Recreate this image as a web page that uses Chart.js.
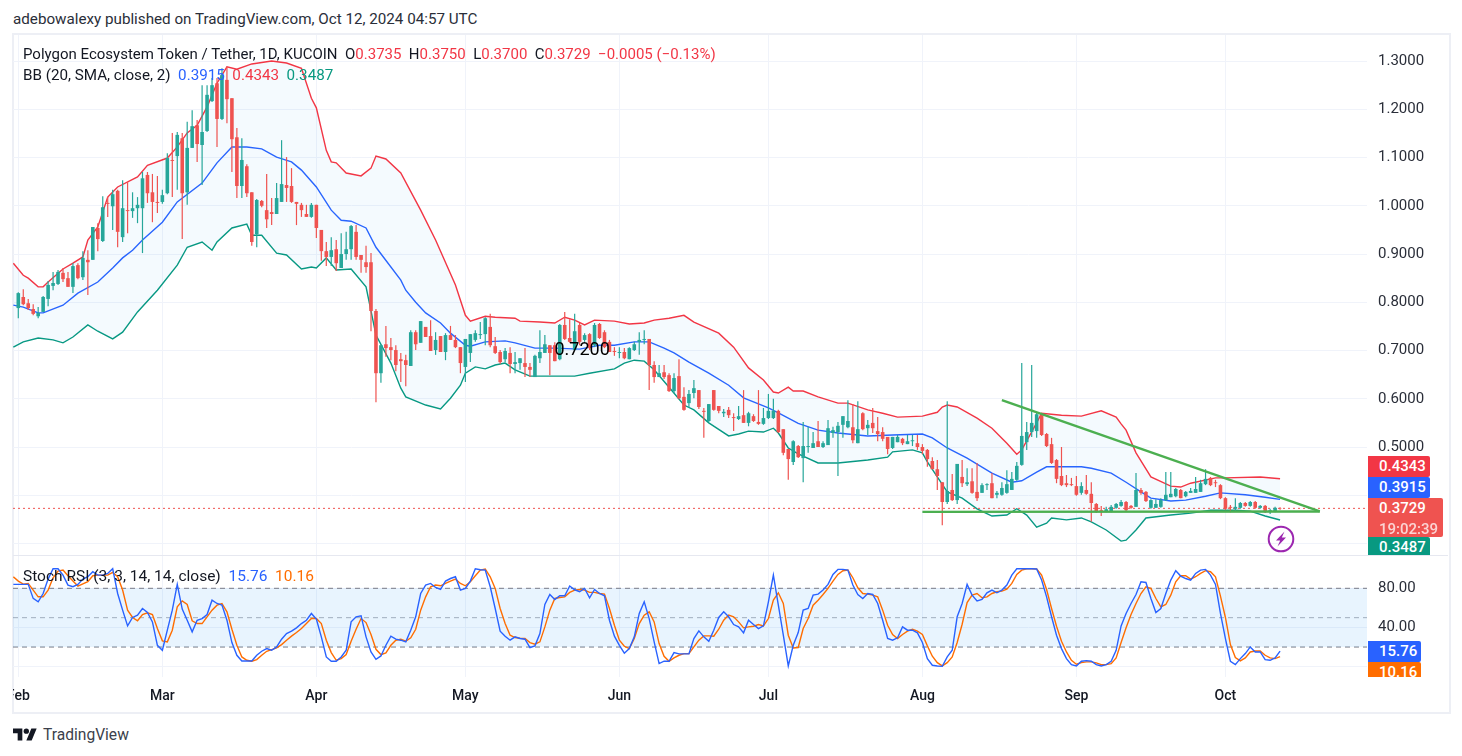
<!DOCTYPE html>
<html>
<head>
<meta charset="utf-8">
<title>POL / USDT</title>
<script src="https://cdn.jsdelivr.net/npm/chart.js@4"></script>
<style>
    html, body { margin: 0; padding: 0; background: #fff; }
    body { position: relative; width: 1462px; height: 756px; overflow: hidden; font-family: Roboto, sans-serif; color: #131722; }
    .abs { position: absolute; white-space: pre; }
    #frame { position: absolute; left: 12px; top: 33px; width: 1435px; height: 677px; border: 2px solid #EDEFF5; }
    #sep { position: absolute; left: 13px; top: 555px; width: 1435px; height: 1px; background: #E6E8F0; }
    #pricePane { position: absolute; left: 13px; top: 35px; }
    #stochPane { position: absolute; left: 13px; top: 556px; }
    .legend { font-size: 15px; line-height: 18px; }
    .tagBox { position: absolute; left: 1368px; overflow: hidden; }
    .tag { position: absolute; left: 0; color: #fff; font-size: 15px; font-weight: 500; box-sizing: border-box; padding-left: 11px; border-radius: 0 2px 2px 0; }
</style>
</head>
<body>
<div id="frame"></div>
<div id="pricePane"><canvas id="priceChart" width="1435" height="520"></canvas></div>
<div id="stochPane"><canvas id="stochChart" width="1435" height="155"></canvas></div>
<div id="sep"></div>

<div class="abs" style="left:13px;top:10px;font-size:15.2px;line-height:18px;color:#2a2e39">adebowalexy published on TradingView.com, Oct 12, 2024 04:57 UTC</div>
<div id="legendTop" class="abs legend" style="left:23px;top:45px"></div>
<div id="legendBB" class="abs legend" style="left:23px;top:66px;font-size:15.2px"></div>
<div id="legendStoch" class="abs legend" style="left:23px;top:567px;font-size:15.5px"></div>

<div class="tagBox" style="top:456px;width:81px;height:99px" id="priceTags"></div>
<div class="tagBox" style="top:641px;width:81px;height:36px" id="stochTags"></div>

<svg class="abs" style="left:1267px;top:525px" width="28" height="28" viewBox="0 0 28 28">
    <circle cx="14" cy="14" r="12.3" fill="none" stroke="#9C27B0" stroke-width="2"/>
    <path d="M17.5 6.5 L9 15.5 L13.2 15.5 L10.5 21.5 L19 12.5 L14.8 12.5 Z" fill="#9C27B0"/>
</svg>

<svg class="abs" style="left:13px;top:728px" width="24" height="13" viewBox="0 0 36 18">
    <path d="M14 18H7V7H0V0h14v18zM28 18h-8L27.5 0h8L28 18z" fill="#131722"/>
    <circle cx="20" cy="4" r="4" fill="#131722"/>
</svg>
<div class="abs" style="left:43px;top:725px;font-size:15.6px;line-height:20px;color:#3b3f4b">TradingView</div>

<script>
// day 0 is Feb 1 2024, one candle per day up to Oct 12
const monthLabels = ["Feb", "Mar", "Apr", "May", "Jun", "Jul", "Aug", "Sep", "Oct"]
const monthDays = [0, 29, 60, 90, 121, 151, 182, 213, 243]
const priceTicks = [1.3, 1.2, 1.1, 1.0, 0.9, 0.8, 0.7, 0.6, 0.5, 0.4, 0.3]
const hiddenPriceTicks = [0.4, 0.3]
const stochTicks = [80, 40, 0]

const opens = [
    .788,.811,.798,.786,.771,.780,.807,.834,.838,.861,
    .850,.832,.877,.852,.888,.888,.954,.927,1.006,.999,
    1.031,.935,.991,.989,.995,.995,1.064,1.028,1.008,1.008,
    1.026,1.095,1.103,1.140,1.028,1.120,1.167,1.126,1.155,1.217,
    1.254,1.180,1.261,1.223,1.142,1.041,1.082,1.028,.941,1.010,
    .991,.987,.983,1.008,1.043,1.041,1.008,1.002,.983,.977,
    1.002,.950,.906,.894,.910,.871,.900,.910,.946,.898,
    .883,.883,.782,.653,.713,.707,.701,.682,.680,.668,
    .738,.716,.749,.730,.701,.730,.697,.732,.722,.707,
    .666,.695,.722,.732,.734,.749,.709,.697,.682,.695,
    .672,.674,.674,.666,.645,.684,.695,.711,.711,.682,
    .753,.726,.701,.753,.722,.734,.711,.755,.738,.718,
    .699,.695,.697,.682,.701,.718,.722,.724,.670,.645,
    .655,.649,.616,.647,.604,.591,.612,.618,.575,.554,
    .618,.585,.570,.577,.562,.558,.566,.550,.564,.552,
    .548,.560,.560,.575,.537,.496,.469,.502,.477,.500,
    .498,.512,.500,.504,.529,.531,.546,.541,.541,.508,
    .570,.539,.550,.533,.531,.521,.498,.510,.517,.506,
    .512,.508,.500,.494,.471,.454,.427,.386,.411,.390,
    .438,.423,.429,.407,.405,.421,.425,.401,.401,.405,
    .411,.432,.463,.510,.531,.533,.566,.527,.506,.473,
    .440,.425,.423,.419,.405,.411,.403,.382,.369,.367,
    .367,.374,.378,.386,.378,.376,.411,.407,.374,.374,
    .376,.390,.396,.398,.411,.398,.405,.405,.407,.423,
    .436,.427,.421,.394,.376,.372,.374,.384,.378,.386,
    .374,.378,.367,.367,.3735
]
const highs = [
    .821,.827,.807,.796,.790,.813,.844,.863,.867,.871,
    .863,.881,.881,.906,.908,.956,.964,1.020,1.018,1.033,
    1.033,1.053,1.049,1.028,1.018,1.070,1.070,1.066,1.062,1.033,
    1.109,1.151,1.153,1.151,1.174,1.198,1.178,1.250,1.250,1.265,
    1.265,1.285,1.288,1.223,1.161,1.140,1.086,1.028,1.014,1.012,
    1.066,1.016,1.047,1.136,1.101,1.078,1.008,1.006,1.002,1.006,
    1.002,.950,.925,.935,.929,.943,.946,.960,.960,.898,
    .917,.902,.786,.711,.751,.726,.711,.695,.691,.742,
    .742,.761,.749,.763,.738,.730,.736,.751,.732,.707,
    .724,.734,.742,.759,.769,.776,.728,.701,.705,.707,
    .697,.684,.705,.674,.691,.742,.732,.711,.717,.755,
    .780,.765,.776,.757,.736,.736,.757,.757,.742,.722,
    .707,.707,.705,.707,.718,.738,.742,.724,.678,.670,
    .670,.653,.653,.682,.624,.618,.639,.618,.581,.589,
    .618,.585,.579,.583,.570,.585,.618,.573,.568,.618,
    .581,.610,.600,.577,.537,.496,.514,.504,.552,.542,
    .531,.554,.512,.556,.542,.552,.564,.597,.589,.595,
    .572,.556,.581,.562,.541,.521,.521,.525,.519,.525,
    .525,.525,.506,.496,.479,.473,.427,.595,.444,.465,
    .473,.456,.456,.467,.425,.425,.446,.409,.427,.452,
    .448,.469,.674,.552,.670,.572,.570,.529,.519,.475,
    .500,.442,.436,.440,.427,.442,.427,.384,.378,.376,
    .380,.384,.390,.388,.380,.446,.415,.409,.392,.392,
    .394,.448,.448,.415,.413,.409,.415,.438,.432,.454,
    .438,.432,.423,.396,.380,.394,.386,.386,.388,.388,
    .380,.380,.372,.376,.3750
]
const lows = [
    .767,.794,.784,.773,.767,.780,.792,.825,.836,.842,
    .832,.819,.848,.846,.815,.888,.906,.925,.977,.950,
    .914,.925,.943,.975,.964,.902,1.006,.966,.985,1.004,
    1.024,1.018,1.033,.931,1.002,1.120,1.091,1.043,1.153,1.215,
    1.122,1.178,1.171,1.070,1.016,1.016,1.018,.917,.914,.997,
    .954,.960,.983,1.008,1.008,1.006,.960,.977,.977,.975,
    .933,.886,.875,.875,.865,.871,.888,.888,.888,.861,
    .861,.740,.593,.633,.687,.680,.657,.635,.626,.668,
    .701,.716,.728,.699,.691,.697,.680,.722,.705,.653,
    .635,.676,.718,.724,.711,.707,.693,.672,.676,.653,
    .653,.660,.645,.645,.645,.674,.695,.649,.678,.680,
    .722,.716,.701,.711,.718,.701,.707,.724,.705,.697,
    .689,.684,.682,.682,.699,.691,.713,.618,.633,.645,
    .641,.614,.612,.599,.575,.581,.601,.579,.519,.552,
    .575,.570,.562,.560,.533,.556,.550,.543,.552,.546,
    .546,.558,.558,.529,.483,.432,.463,.477,.427,.488,
    .498,.500,.498,.504,.519,.440,.519,.539,.508,.508,
    .535,.525,.529,.512,.512,.485,.496,.510,.504,.506,
    .502,.494,.485,.459,.454,.411,.338,.382,.388,.382,
    .417,.419,.403,.388,.405,.411,.394,.394,.399,.403,
    .411,.430,.461,.494,.521,.519,.523,.500,.465,.425,
    .419,.417,.419,.399,.401,.401,.345,.363,.357,.365,
    .365,.372,.376,.367,.372,.376,.401,.386,.372,.374,
    .374,.388,.396,.396,.394,.396,.405,.405,.407,.421,
    .419,.417,.392,.369,.365,.367,.372,.376,.376,.372,
    .372,.363,.361,.365,.3700
]
const closes = [
    .819,.796,.788,.776,.778,.811,.836,.840,.863,.848,
    .832,.875,.850,.892,.883,.956,.931,.997,1.004,1.024,
    .946,.995,.989,.995,1.002,1.057,1.026,1.008,1.006,1.022,
    1.099,1.093,1.147,1.026,1.120,1.165,1.128,1.153,1.230,1.250,
    1.180,1.271,1.221,1.138,1.041,1.095,1.026,.925,1.012,1.000,
    .972,.983,1.016,1.045,1.037,1.008,1.004,.991,.977,1.002,
    .954,.906,.894,.908,.881,.900,.910,.958,.894,.888,
    .873,.782,.653,.711,.705,.701,.670,.678,.670,.738,
    .713,.761,.728,.699,.722,.697,.732,.722,.707,.674,
    .724,.734,.736,.734,.767,.711,.695,.676,.699,.672,
    .676,.684,.666,.660,.689,.697,.713,.695,.678,.753,
    .724,.718,.740,.718,.732,.705,.753,.726,.707,.697,
    .697,.697,.684,.705,.713,.722,.724,.670,.645,.653,
    .645,.616,.643,.601,.577,.610,.622,.583,.573,.589,
    .577,.575,.573,.566,.560,.564,.550,.570,.554,.548,
    .560,.575,.575,.531,.488,.475,.512,.479,.502,.502,
    .508,.500,.508,.539,.535,.544,.564,.554,.514,.537,
    .537,.546,.539,.527,.517,.496,.521,.521,.508,.512,
    .514,.500,.492,.475,.454,.440,.386,.409,.390,.465,
    .425,.427,.405,.394,.421,.423,.394,.405,.415,.423,
    .434,.461,.523,.531,.550,.568,.525,.502,.467,.434,
    .421,.421,.421,.401,.419,.403,.384,.365,.367,.371,
    .376,.382,.386,.369,.374,.411,.405,.388,.390,.382,
    .390,.401,.403,.413,.394,.407,.409,.413,.425,.434,
    .421,.425,.394,.372,.374,.376,.384,.378,.386,.374,
    .378,.365,.369,.374,.3729
]

// Bollinger bands, read at the days where the line bends
const upperDays = [-1,1,2,4,5,6,9,11,13,14,16,18,20,24,26,30,32,34,36,38,40,42,44,47,51,54,57,59,60,62,63,64,66,69,71,72,74,77,81,84,88,90,91,94,96,100,101,105,108,110,112,114,116,120,123,126,128,131,134,136,141,144,147,150,152,153,155,156,158,161,165,167,171,174,177,182,185,186,187,189,193,196,199,201,202,205,206,210,214,218,221,222,223,225,228,232,234,236,241,243,250,254]
const upperBand = [.881,.856,.850,.832,.832,.842,.869,.881,.894,.929,.956,1.018,1.039,1.060,1.084,1.099,1.122,1.151,1.167,1.205,1.254,1.288,1.283,1.294,1.300,1.296,1.285,1.223,1.203,1.115,1.091,1.089,1.068,1.062,1.078,1.103,1.097,1.068,.991,.929,.836,.773,.761,.771,.769,.767,.761,.759,.757,.769,.763,.753,.763,.761,.755,.757,.763,.767,.773,.759,.736,.707,.664,.639,.614,.612,.624,.616,.616,.604,.591,.591,.577,.570,.562,.564,.572,.583,.587,.583,.560,.539,.508,.485,.494,.550,.570,.566,.564,.575,.562,.548,.535,.488,.438,.419,.417,.425,.436,.436,.438,.4343]
const middleDays = [-1,1,4,5,9,12,16,19,21,23,25,29,32,37,40,43,46,49,52,55,57,60,63,65,67,70,72,77,78,80,82,85,87,90,91,94,98,100,104,108,113,117,120,124,127,130,132,135,139,143,146,151,153,157,161,165,171,176,182,184,187,191,196,200,202,205,207,214,216,220,223,226,228,232,235,239,242,247,251,254]
const middleBand = [.794,.790,.778,.778,.794,.819,.842,.871,.892,.908,.929,.966,1.008,1.047,1.089,1.122,1.122,1.118,1.101,1.091,1.074,1.039,.991,.970,.968,.954,.914,.846,.825,.800,.778,.757,.736,.711,.709,.718,.720,.716,.705,.705,.703,.711,.711,.718,.718,.705,.695,.676,.653,.628,.602,.581,.571,.549,.535,.529,.523,.525,.527,.519,.498,.477,.446,.427,.430,.448,.459,.459,.456,.446,.427,.407,.394,.388,.390,.398,.405,.401,.396,.3915]
const lowerDays = [-1,1,4,7,9,11,14,16,19,21,24,28,32,34,37,39,40,43,46,47,49,52,54,57,59,60,62,64,67,70,72,75,77,78,82,85,87,89,90,92,94,96,98,100,103,108,112,115,120,122,124,126,128,131,134,136,139,143,145,147,150,152,153,155,157,161,165,171,175,176,180,182,183,185,187,190,193,196,199,201,203,205,207,208,211,214,216,219,222,223,225,227,232,236,240,245,248,251,254]
const lowerBand = [.707,.718,.726,.722,.716,.728,.753,.740,.724,.738,.780,.825,.877,.914,.925,.908,.925,.954,.962,.939,.939,.902,.898,.869,.873,.871,.892,.867,.869,.832,.732,.674,.622,.604,.587,.579,.601,.628,.653,.666,.662,.670,.674,.660,.647,.647,.647,.653,.662,.674,.680,.678,.660,.624,.587,.577,.550,.523,.527,.533,.531,.539,.529,.498,.486,.467,.467,.473,.479,.490,.494,.488,.469,.438,.407,.394,.372,.357,.359,.372,.359,.334,.342,.353,.349,.353,.345,.328,.305,.307,.328,.353,.359,.363,.369,.369,.367,.357,.3487]

// last close and the two drawn trend lines
const lastClose = 0.3729
const fallingLineDays = [198, 262]
const fallingLine = [0.5974, 0.3665]
const flatLineDays = [182, 262]
const flatLine = [0.3655, 0.3665]

// Stoch RSI, first value is Jan 31
const stochK = [
    84,84,84,84,69.7,66.2,74.7,89.4,100,100,93.5,83.3,81.6,84,89.4,91.8,96.9,93.5,93.5,95.2,
    100,74.7,57.7,41.6,50.2,52.6,59.4,55.3,45.7,21.8,16.7,37.2,57.7,84,58.7,47.4,35.5,47.4,49.1,53.2,
    67.9,64.5,62.8,47.4,24.6,11.6,5.8,5.8,5.8,11.6,15.7,18.4,16.7,20.1,28,33.8,36.2,39.6,44,47.4,
    54.3,48.5,30.4,9.9,5.5,5.5,9.9,16.7,45.7,50.9,51.9,30.4,15,7.5,10.9,21.8,31.1,28,27,25.3,
    37.2,50.9,74.7,83.3,85,80.9,78.8,87.4,90,91.8,78.2,79.9,87.4,100,99,98.6,81.6,59.4,36.2,
    31.1,27,30.4,28.7,28,19.5,21.2,33.8,63.5,73.7,68.6,72.4,72.4,82.3,78.5,76.5,79.9,70.3,78.8,74.7,
    72.4,47.4,31.1,21.8,13.7,18.4,30.4,54.3,66.2,49.1,25.3,3.1,5.5,5.5,14.3,13,13,13,28.7,36.5,
    30.4,25.9,37.2,50.2,56,50.9,43,40.6,34.5,47.4,43,38.9,41.6,66.2,93.5,62.8,32.1,.7,21.8,34.8,
    57.7,59.4,73,74.1,78.2,84,94.2,99.3,99.3,98.6,83.3,73.7,69.6,74.7,73.7,64.5,47.4,28.7,27,29.4,
    40.6,37.2,37.2,34.5,24.6,8.2,1.4,.7,.3,9.9,16.7,50.9,64.5,84,73,67.2,68.6,75.4,78.2,75.4,
    78.2,83.3,93.5,100,100,100,100,99.7,88.4,71.3,50.9,32.1,18.4,8.2,2,.7,5.5,6.1,5.5,2,
    .7,2,5.5,16.7,41.6,54.3,64.5,73.7,86.7,86,69.6,55.3,59.4,74.7,88.4,98,92.5,90,88.4,95.2,
    98.6,99.3,93.5,84,54.3,28.7,5.5,2,8.2,13.3,20.1,15,15,7.2,6.5,8.9,15.76
]
const stochD = [
    91.8,87.4,84.3,85,78.2,71.3,71.3,78.2,90.8,97.6,98.6,92.8,87.4,82.3,84.6,86.7,92.8,93.5,93.5,93.5,
    96.2,91.8,78.2,57.7,50.2,46.8,53.2,55,53.2,38.9,26.3,25.3,37.2,61.1,67.2,63.5,46.8,44,44,50.9,
    57.7,62.8,64.5,56,38.2,21.8,9.9,6.5,5.5,7.2,11.6,15.7,17.4,19.1,22.5,27,31.1,34.8,38.9,44,
    49.1,49.1,44,27,14.3,6.5,8.2,12.3,25.9,38.2,49.1,45,32.8,17.7,12.3,14,21.8,27,28,25.9,
    29.4,38.2,57.7,71.3,81.6,83.3,82.6,85,87.4,89.4,85,82.6,86.7,92.8,98.6,99.7,91.8,79.9,59.4,
    44,32.1,29.7,29,28.7,24.6,22.9,25.3,40.6,57.7,69.6,70.6,71.3,75.8,78.2,78.8,78.2,75.8,75.8,74.7,
    74.1,59.4,42.3,27,20.8,18.4,28.7,44,52.6,56,45.7,23.5,10.6,5.5,8.9,11.6,13.3,13.3,20.1,27,
    31.4,31.4,31.1,38.2,47.4,52.6,50.9,45.7,39.6,40.6,41.3,43,41.6,49.1,67.9,75.4,64.5,32.1,19.1,19.5,
    38.9,49.1,62.8,67.9,73.7,79.9,87.4,94.2,98,98.6,90.8,80.5,74.7,74.1,73,71.3,57.7,42.3,32.8,28.7,
    32.8,36.2,38.2,36.2,32.8,21.2,10.6,4.1,.7,4.1,9.9,24.6,43.3,65.5,73,74.7,70.3,71.3,74.7,76.5,
    77.1,79.2,85,94.2,98.6,100,100,99.7,93.5,78.8,59.4,41.3,25.9,15,6.5,2.4,4.1,4.8,4.8,3.8,
    2,2,3.1,8.9,24.6,39.6,53.2,64.5,74.7,81.6,79.9,69.6,61.1,63.5,73,86.7,92.8,92.8,89.4,91.8,
    95.2,98,96.9,91.8,72,50.2,22.5,9.2,5.8,8.9,15,16,16,11.6,8.9,8.2,10.16
]
const bandTop = 80
const bandMid = 50
const bandBottom = 20

const colUp = "#26A69A"
const colDown = "#EF5350"
const colBlue = "#2962FF"
const colRed = "#F23645"
const colGreen = "#089981"
const colOrange = "#FF6D00"
const gridCol = "#F0F3FA"

// same horizontal range in both panes so the months line up
const xMin = -1.067
const xMax = 271.5

function toPoints(days, vals) {
    return days.map((d, i) => ({x: d, y: vals[i]}))
}

function candleColor(ctx) {
    let i = ctx.dataIndex
    return closes[i] >= opens[i] ? colUp : colDown
}

function lineSet(data, color, width, extra) {
    return Object.assign({
        type: "line",
        data: data,
        borderColor: color,
        borderWidth: width,
        pointRadius: 0,
        tension: 0,
        fill: false
    }, extra)
}

// scales report label overhang as padding, which would inset the plot area
function noPadding(s) {
    s.paddingLeft = 0
    s.paddingRight = 0
    s.paddingTop = 0
    s.paddingBottom = 0
}

function xScale(showLabels) {
    return {
        type: "linear",
        offset: false,
        min: xMin,
        max: xMax,
        border: {display: false},
        grid: {color: gridCol, drawTicks: false, offset: false},
        afterBuildTicks: s => { s.ticks = monthDays.map(v => ({value: v})) },
        afterFit: s => { s.height = showLabels ? 34 : 0; noPadding(s) },
        ticks: {
            display: showLabels,
            autoSkip: false,
            maxRotation: 0,
            padding: 11,
            color: "#131722",
            font: {family: "Roboto", size: 14, weight: "500"},
            callback: v => monthLabels[monthDays.indexOf(v)]
        }
    }
}

function yScale(min, max, tickVals, fmt) {
    return {
        position: "right",
        min: min,
        max: max,
        border: {display: false},
        grid: {color: gridCol, drawTicks: false},
        afterBuildTicks: s => { s.ticks = tickVals.map(v => ({value: v})) },
        afterFit: s => { s.width = 81; noPadding(s) },
        ticks: {
            autoSkip: false,
            padding: 11,
            crossAlign: "near",
            color: "#2a2e39",
            font: {family: "Roboto", size: 15},
            callback: fmt
        }
    }
}

const baseOptions = {
    responsive: false,
    animation: false,
    devicePixelRatio: 1,
    events: [],
    layout: {autoPadding: false, padding: 0},
    plugins: {legend: {display: false}, tooltip: {enabled: false}}
}

// 0.7200 note sitting on the May/June range
const noteLabel = {
    id: "noteLabel",
    afterDatasetsDraw(chart) {
        let c = chart.ctx
        c.save()
        c.fillStyle = "#000"
        c.font = "18px Roboto"
        c.textAlign = "center"
        c.textBaseline = "middle"
        c.fillText("0.7200", chart.scales.x.getPixelForValue(113.5), chart.scales.y.getPixelForValue(0.7))
        c.restore()
    }
}

new Chart(document.getElementById("priceChart"), {
    type: "bar",
    data: {
        datasets: [
            lineSet(toPoints(fallingLineDays, fallingLine), "#4CAF50", 2.4, {order: 0}),
            lineSet(toPoints(flatLineDays, flatLine), "#4CAF50", 2.4, {order: 0}),
            {
                type: "bar",
                order: 1,
                data: closes.map((c, i) => ({x: i, y: [opens[i], c]})),
                backgroundColor: candleColor,
                barThickness: 3.6,
                inflateAmount: 0,
                grouped: false,
                borderWidth: 0
            },
            {
                type: "bar",
                order: 2,
                data: highs.map((h, i) => ({x: i, y: [lows[i], h]})),
                backgroundColor: candleColor,
                barThickness: 1.2,
                inflateAmount: 0,
                grouped: false,
                borderWidth: 0
            },
            lineSet(toPoints([xMin, xMax], [lastClose, lastClose]), colDown, 1, {order: 3, borderDash: [2, 3]}),
            lineSet(toPoints(upperDays, upperBand), colRed, 1.4, {order: 4, fill: {target: 7}, backgroundColor: "rgba(33,150,243,0.05)"}),
            lineSet(toPoints(middleDays, middleBand), colBlue, 1.4, {order: 4}),
            lineSet(toPoints(lowerDays, lowerBand), colGreen, 1.4, {order: 4})
        ]
    },
    options: Object.assign({}, baseOptions, {
        scales: {
            x: xScale(false),
            y: yScale(0.2762, 1.354, priceTicks, v => hiddenPriceTicks.includes(v) ? "" : v.toFixed(4))
        }
    }),
    plugins: [noteLabel]
})

new Chart(document.getElementById("stochChart"), {
    type: "line",
    data: {
        datasets: [
            lineSet(stochK.map((v, i) => ({x: i - 1, y: v})), colBlue, 1.4, {order: 0}),
            lineSet(stochD.map((v, i) => ({x: i - 1, y: v})), colOrange, 1.4, {order: 0}),
            lineSet(toPoints([xMin, xMax], [bandTop, bandTop]), "#787B86", 1, {order: 1, borderDash: [5, 4], fill: {target: 3}, backgroundColor: "rgba(33,150,243,0.1)"}),
            lineSet(toPoints([xMin, xMax], [bandBottom, bandBottom]), "#787B86", 1, {order: 1, borderDash: [5, 4]}),
            lineSet(toPoints([xMin, xMax], [bandMid, bandMid]), "rgba(120,123,134,0.6)", 1, {order: 1, borderDash: [5, 4]})
        ]
    },
    options: Object.assign({}, baseOptions, {
        scales: {
            x: xScale(true),
            y: yScale(-10.6, 113, stochTicks, v => v.toFixed(2))
        }
    })
})

// legend rows
function spans(parts) {
    return parts.map(p => `<span style="color:${p[1]}">${p[0]}</span>`).join("")
}
const ink = "#131722"
document.getElementById("legendTop").innerHTML = spans([
    ["Polygon Ecosystem Token / Tether, 1D, KUCOIN  O", ink], ["0.3735", colRed],
    ["  H", ink], ["0.3750", colRed], ["  L", ink], ["0.3700", colRed],
    ["  C", ink], ["0.3729", colRed], ["  \u22120.0005 (\u22120.13%)", colRed]
])
document.getElementById("legendBB").innerHTML = spans([
    ["BB (20, SMA, close, 2)  ", ink], ["0.3915", colBlue], ["  ", ink], ["0.4343", colRed], ["  ", ink], ["0.3487", colGreen]
])
document.getElementById("legendStoch").innerHTML = spans([
    ["Stoch RSI (3, 3, 14, 14, close)  ", ink], ["15.76", colBlue], ["  ", ink], ["10.16", colOrange]
])

// value tags on the right of each pane
function addTag(boxId, text, color, top, height, width) {
    let el = document.createElement("div")
    el.className = "tag"
    el.innerHTML = text
    el.style.background = color
    el.style.top = top + "px"
    el.style.height = height + "px"
    el.style.width = width + "px"
    el.style.lineHeight = "21px"
    document.getElementById(boxId).appendChild(el)
}
addTag("priceTags", "0.4343", colRed, 0, 21, 62)
addTag("priceTags", "0.3915", colBlue, 21, 21, 62)
addTag("priceTags", "0.3729<br><span style='opacity:.75'>19:02:39</span>", colDown, 42, 39, 75)
addTag("priceTags", "0.3487", colGreen, 81, 21, 62)
addTag("stochTags", "15.76", colBlue, 0, 21, 53)
addTag("stochTags", "10.16", colOrange, 21, 21, 53)
</script>
</body>
</html>
